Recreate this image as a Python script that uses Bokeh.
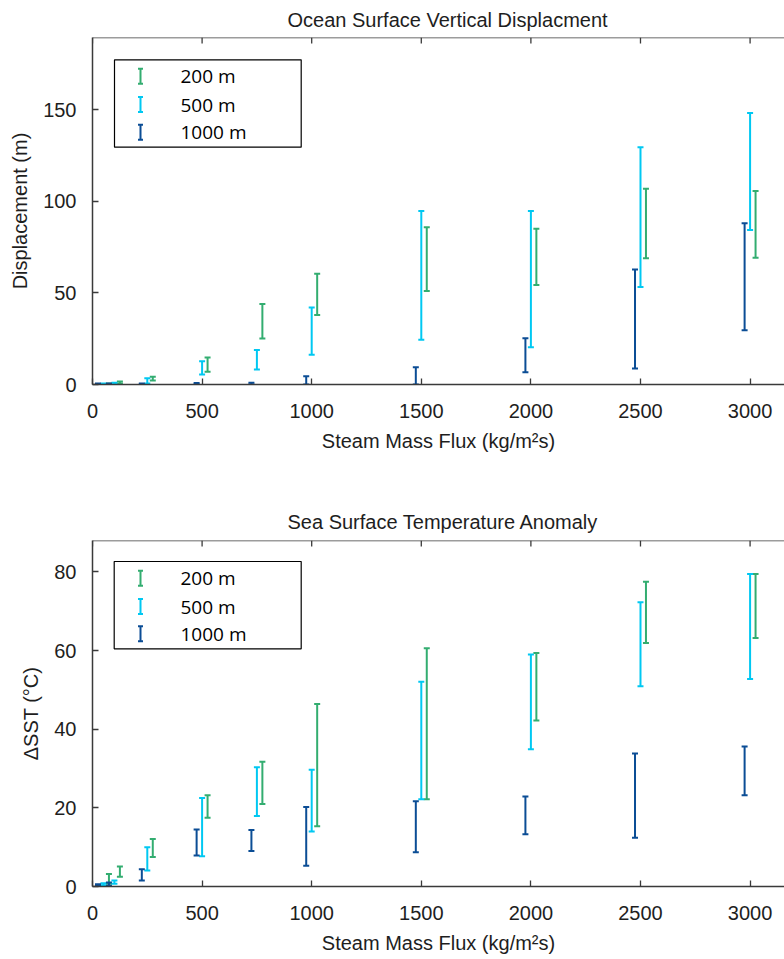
import numpy as np
from bokeh.plotting import figure
from bokeh.layouts import column
from bokeh.models import (ColumnDataSource, Range1d, FixedTicker, Span,
                          Whisker, TeeHead, BoxAnnotation, Label, Arrow)
from bokeh.transform import dodge
from bokeh.embed import file_html
from bokeh.resources import INLINE

# ---------------------------------------------------------------- data
flux = [50, 100, 250, 500, 750, 1000, 1500, 2000, 2500, 3000]   # kg/m^2 s
depths = ["200 m", "500 m", "1000 m"]

# Ocean surface vertical displacement (m): lower / upper bounds
disp_200_lo = [0.0, 0.6, 2.2, 6.9, 25.1, 38.0, 51.0, 54.3, 69.0, 69.2]
disp_200_hi = [0.6, 1.7, 4.2, 14.7, 44.0, 60.5, 85.9, 85.0, 106.9, 105.7]
disp_500_lo = [0.0, 0.2, 0.5, 5.4, 8.2, 16.3, 24.5, 20.3, 53.2, 84.4]
disp_500_hi = [0.6, 0.9, 3.4, 12.7, 18.9, 42.1, 94.8, 94.8, 129.5, 148.3]
disp_1000_lo = [0.0, 0.0, 0.0, 0.0, 0.0, 0.0, 0.0, 6.7, 8.7, 29.6]
disp_1000_hi = [0.5, 0.5, 0.6, 0.8, 0.9, 4.5, 9.4, 25.2, 62.8, 88.1]

# Sea surface temperature anomaly (deg C): lower / upper bounds
sst_200_lo = [0.7, 2.5, 7.5, 17.5, 21.0, 15.3, 22.2, 42.2, 61.9, 63.2]
sst_200_hi = [3.2, 5.1, 12.1, 23.2, 31.7, 46.4, 60.6, 59.4, 77.5, 79.5]
sst_500_lo = [0.3, 0.7, 4.1, 7.7, 17.9, 14.0, 22.2, 34.9, 50.9, 52.8]
sst_500_hi = [0.8, 1.5, 10.0, 22.5, 30.3, 29.7, 52.1, 59.0, 72.3, 79.5]
sst_1000_lo = [0.1, 0.2, 1.5, 7.9, 9.0, 5.3, 8.7, 13.3, 12.4, 23.2]
sst_1000_hi = [0.6, 1.0, 4.4, 14.5, 14.4, 20.2, 21.7, 22.9, 33.8, 35.6]

x_ticks = [0, 500, 1000, 1500, 2000, 2500, 3000]
disp_ticks = [0, 50, 100, 150]
sst_ticks = [0, 20, 40, 60, 80]

# ---------------------------------------------------------------- style
COLORS = {"200 m": "#33AD70", "500 m": "#00C8F2", "1000 m": "#0B4D95"}
DODGE = {"200 m": 25, "500 m": 0, "1000 m": -25}
AXIS_FONT = "Liberation Sans"
LEGEND_FONT = "Open Sans"
INK = "#1e1e1e"
AXIS_COLOR = "#3a3a3a"
X_END = 3157
W = 784
TICK_LEN = 6


def style_axis(ax):
    ax.major_tick_in = TICK_LEN
    ax.major_tick_out = 0
    ax.minor_tick_line_color = None
    ax.axis_line_color = AXIS_COLOR
    ax.axis_line_width = 1.5
    ax.major_tick_line_color = AXIS_COLOR
    ax.major_tick_line_width = 1.3
    ax.major_label_text_font = AXIS_FONT
    ax.major_label_text_font_size = "20px"
    ax.major_label_text_color = INK
    ax.axis_label_text_font = AXIS_FONT
    ax.axis_label_text_font_size = "20px"
    ax.axis_label_text_font_style = "normal"
    ax.axis_label_text_color = INK


def make_panel(title, ylabel, y_end, y_ticks, bounds, height, top, bottom,
               title_standoff, legend_box, legend_rows):
    p = figure(width=W, height=height, output_backend="svg", toolbar_location=None,
               x_range=Range1d(0, X_END), y_range=Range1d(0, y_end),
               min_border_left=92, min_border_right=0,
               min_border_top=top, min_border_bottom=bottom,
               x_axis_label="Steam Mass Flux (kg/m²s)", y_axis_label=ylabel)
    p.xgrid.visible = False
    p.ygrid.visible = False
    p.outline_line_color = None
    p.background_fill_color = "white"
    p.border_fill_color = "white"

    p.xaxis.ticker = FixedTicker(ticks=x_ticks)
    p.yaxis.ticker = FixedTicker(ticks=y_ticks)
    for ax in p.xaxis:
        style_axis(ax)
        ax.major_label_standoff = 19
        ax.axis_label_standoff = 9
    for ax in p.yaxis:
        style_axis(ax)
        ax.major_label_standoff = 16
        ax.axis_label_standoff = 9

    # top frame edge with inward ticks (no labels)
    frame_h = height - top - bottom
    p.add_layout(Span(location=y_end, dimension="width",
                      line_color=AXIS_COLOR, line_width=1.5))
    tick_len = TICK_LEN * y_end / frame_h
    tx = np.array(x_ticks, dtype=float)
    p.segment(x0=tx, y0=np.full_like(tx, y_end), x1=tx, y1=np.full_like(tx, y_end - tick_len),
              line_color=AXIS_COLOR, line_width=1.3)

    p.title.text = title
    p.title.align = "left"
    p.title.offset = 195
    p.title.standoff = title_standoff
    p.title.text_font = AXIS_FONT
    p.title.text_font_size = "20px"
    p.title.text_font_style = "normal"
    p.title.text_color = INK

    # error bars, one whisker set per depth
    for d in depths:
        lo, hi = bounds[d]
        src = ColumnDataSource(dict(flux=flux, lower=lo, upper=hi))
        c = COLORS[d]
        p.add_layout(Whisker(source=src, base=dodge("flux", DODGE[d]),
                             lower="lower", upper="upper",
                             line_color=c, line_width=2,
                             upper_head=TeeHead(size=6, line_color=c, line_width=2),
                             lower_head=TeeHead(size=6, line_color=c, line_width=2)))

    # legend drawn in screen units inside the frame
    bl, br, bt, bb = legend_box
    p.add_layout(BoxAnnotation(left=bl, right=br, top=frame_h - bt, bottom=frame_h - bb,
                               left_units="screen", right_units="screen",
                               top_units="screen", bottom_units="screen",
                               fill_color="white", fill_alpha=1.0,
                               line_color="black", line_alpha=1.0, line_width=1.2))
    for d, row_y in zip(depths, legend_rows):
        y = frame_h - row_y
        c = COLORS[d]
        p.add_layout(Arrow(x_start=48, y_start=y - 7.5, x_end=48, y_end=y + 7.5,
                           start_units="screen", end_units="screen",
                           line_color=c, line_width=2,
                           start=TeeHead(size=5, line_color=c, line_width=2),
                           end=TeeHead(size=5, line_color=c, line_width=2)))
        p.add_layout(Label(x=88, y=y, x_units="screen", y_units="screen", text=d,
                           text_font=LEGEND_FONT, text_font_size="19px",
                           text_color="black", text_baseline="middle"))
    return p


disp_bounds = {"200 m": (disp_200_lo, disp_200_hi),
               "500 m": (disp_500_lo, disp_500_hi),
               "1000 m": (disp_1000_lo, disp_1000_hi)}
sst_bounds = {"200 m": (sst_200_lo, sst_200_hi),
              "500 m": (sst_500_lo, sst_500_hi),
              "1000 m": (sst_1000_lo, sst_1000_hi)}

p1 = make_panel("Ocean Surface Vertical Displacment", "Displacement (m)", 189.5, disp_ticks,
                disp_bounds, height=480, top=36, bottom=96, title_standoff=13,
                legend_box=(22, 208.7, 23.3, 110.7), legend_rows=(39.7, 68, 95.7))
p2 = make_panel("Sea Surface Temperature Anomaly", "ΔSST (°C)", 88, sst_ticks,
                sst_bounds, height=479, top=60, bottom=73, title_standoff=16,
                legend_box=(21.7, 208.7, 21, 108.3), legend_rows=(37.7, 66, 93.3))

layout = column(p1, p2)
open("out.html", "w").write(file_html(layout, INLINE))
